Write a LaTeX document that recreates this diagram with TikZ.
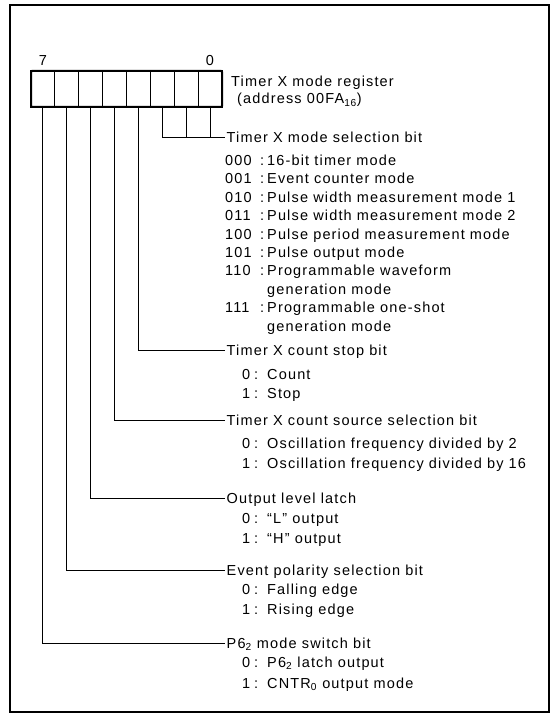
\documentclass[tikz,border=0pt]{standalone}
\usepackage{fontspec}
\setmainfont{Liberation Sans}[LetterSpace=8]
\newcommand\modeval[2]{\makebox[42pt][l]{#1\hfill:\hspace{3pt}}#2}
\newcommand\bitval[2]{\makebox[25pt][l]{#1\hfill:\hspace{9pt}}#2}
\begin{document}
\begin{tikzpicture}[x=1pt,y=-1pt,
  every node/.style={font=\fontsize{14.5pt}{17pt}\selectfont},
  cell/.style={draw, line width=1.1pt, minimum width=23.875pt, minimum height=36pt, inner sep=0pt, outer sep=0pt},
  hdr/.style={anchor=west, inner xsep=1.5pt, inner ysep=0pt, text height=10.4pt, text depth=0pt},
  item/.style={anchor=base west, inner sep=0pt},
  wire/.style={line width=0.9pt},
  frame/.style={line width=2pt}
  ]
\useasboundingbox (0,0) rectangle (554,714);
\fill[white] (0,0) rectangle (554,714);
\draw[frame] (10,5) rectangle (549,712);

% register cells
\foreach \i in {0,...,7}{
  \node[cell] (b\i) at ({31+23.875*(7-\i)+11.9375},89) {};
}
\draw[line width=2pt, rounded corners=1pt] (b7.north west) rectangle (b0.south east);
\node[anchor=base, inner sep=0pt] (n7) at (43,66) {7};
\node[anchor=base, inner sep=0pt] (n0) at (210,66) {0};

\node[item] (title) at (231,87) {Timer X mode register};
\node[item] (addr) at (237,104) {(address 00FA\textsubscript{16})};

% mode selection
\node[hdr] (msel) at (225,137) {Timer X mode selection bit};
\node[item] (m0) at (225,165) {\modeval{000}{16-bit timer mode}};
\node[item] (m1) at (225,183.5) {\modeval{001}{Event counter mode}};
\node[item] (m2) at (225,202) {\modeval{010}{Pulse width measurement mode 1}};
\node[item] (m3) at (225,220.5) {\modeval{011}{Pulse width measurement mode 2}};
\node[item] (m4) at (225,239) {\modeval{100}{Pulse period measurement mode}};
\node[item] (m5) at (225,257) {\modeval{101}{Pulse output mode}};
\node[item] (m6) at (225,275.5) {\modeval{110}{Programmable waveform}};
\node[item] (m6b) at (267,294) {generation mode};
\node[item] (m7) at (225,312.5) {\modeval{111}{Programmable one-shot}};
\node[item] (m7b) at (267,331) {generation mode};

% count stop
\node[hdr] (stop) at (225,350) {Timer X count stop bit};
\node[item] (s0) at (242,379) {\bitval{0}{Count}};
\node[item] (s1) at (242,398) {\bitval{1}{Stop}};

% count source
\node[hdr] (src) at (225,420) {Timer X count source selection bit};
\node[item] (c0) at (242,448) {\bitval{0}{Oscillation frequency divided by 2}};
\node[item] (c1) at (242,468) {\bitval{1}{Oscillation frequency divided by 16}};

% output level latch
\node[hdr] (olat) at (225,498) {Output level latch};
\node[item] (o0) at (242,523) {\bitval{0}{“L” output}};
\node[item] (o1) at (242,543) {\bitval{1}{“H” output}};

% event polarity
\node[hdr] (epol) at (225,570) {Event polarity selection bit};
\node[item] (e0) at (242,594) {\bitval{0}{Falling edge}};
\node[item] (e1) at (242,614) {\bitval{1}{Rising edge}};

% P62 mode switch
\node[hdr] (psw) at (225,643) {P6\textsubscript{2} mode switch bit};
\node[item] (p0) at (242,667) {\bitval{0}{P6\textsubscript{2} latch output}};
\node[item] (p1) at (242,688) {\bitval{1}{CNTR\textsubscript{0} output mode}};

% connectors
\draw[wire] (b2.south) |- (msel.west);
\draw[wire] (b1.south) -- (b1.south |- msel.west);
\draw[wire] (b0.south) -- (b0.south |- msel.west);
\draw[wire] (b3.south) |- (stop.west);
\draw[wire] (b4.south) |- (src.west);
\draw[wire] (b5.south) |- (olat.west);
\draw[wire] (b6.south) |- (epol.west);
\draw[wire] (b7.south) |- (psw.west);
\end{tikzpicture}
\end{document}
